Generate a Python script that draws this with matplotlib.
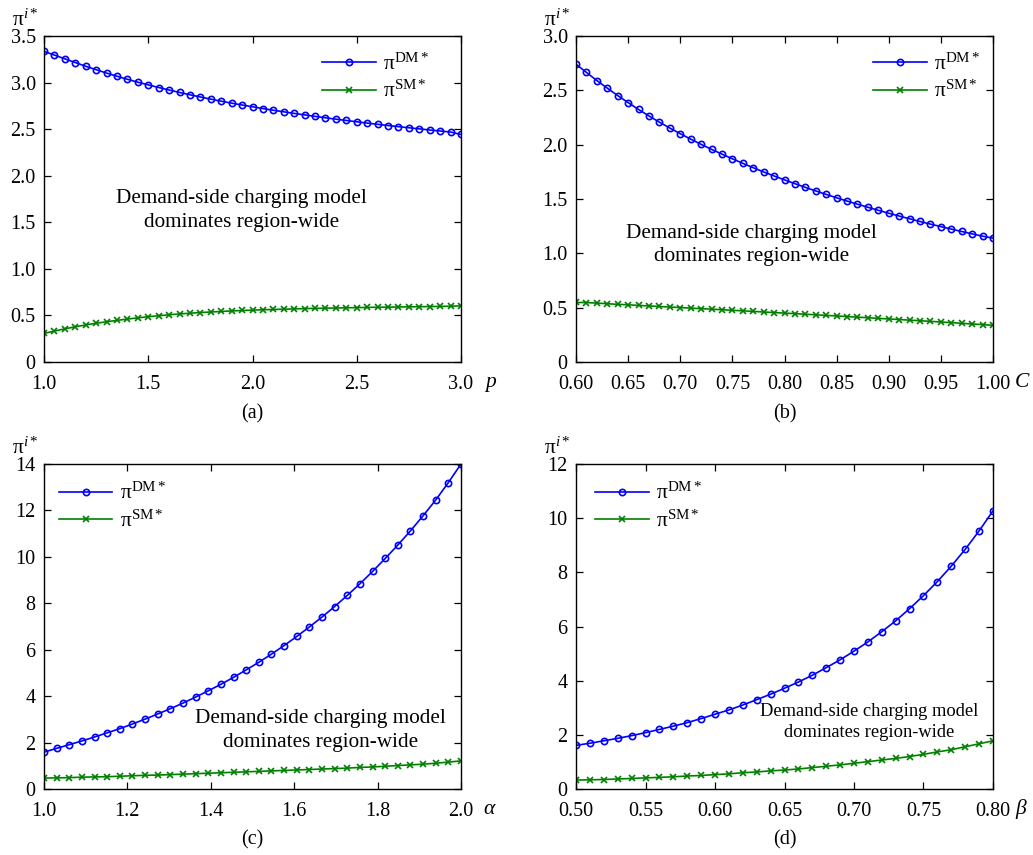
import numpy as np
import matplotlib
matplotlib.use("Agg")
import matplotlib.pyplot as plt

plt.rcParams['font.family'] = ['Liberation Serif', 'DejaVu Serif']
plt.rcParams['mathtext.fontset'] = 'custom'
plt.rcParams['mathtext.rm'] = 'Liberation Serif'
plt.rcParams['mathtext.it'] = 'Liberation Serif:italic'

# ---------------- data ----------------
# (a) versus p
p_vals = [1.00, 1.05, 1.10, 1.15, 1.20, 1.25, 1.30, 1.35, 1.40, 1.45, 1.50,
          1.55, 1.60, 1.65, 1.70, 1.75, 1.80, 1.85, 1.90, 1.95, 2.00,
          2.05, 2.10, 2.15, 2.20, 2.25, 2.30, 2.35, 2.40, 2.45, 2.50,
          2.55, 2.60, 2.65, 2.70, 2.75, 2.80, 2.85, 2.90, 2.95, 3.00]
a_dm = [3.335, 3.295, 3.255, 3.215, 3.175, 3.138, 3.102, 3.068, 3.035, 3.004, 2.975,
        2.947, 2.920, 2.894, 2.869, 2.845, 2.822, 2.800, 2.779, 2.759, 2.740,
        2.721, 2.703, 2.686, 2.669, 2.653, 2.637, 2.622, 2.607, 2.593, 2.579,
        2.565, 2.552, 2.539, 2.527, 2.515, 2.503, 2.491, 2.480, 2.469, 2.443]
a_sm = [0.307, 0.332, 0.356, 0.378, 0.398, 0.416, 0.432, 0.447, 0.461, 0.474, 0.486,
        0.497, 0.507, 0.516, 0.524, 0.531, 0.537, 0.543, 0.548, 0.553, 0.557,
        0.561, 0.564, 0.567, 0.570, 0.573, 0.576, 0.578, 0.580, 0.582, 0.584,
        0.586, 0.588, 0.589, 0.591, 0.592, 0.594, 0.595, 0.597, 0.599, 0.603]

# (b) versus C
c_vals = [0.60, 0.61, 0.62, 0.63, 0.64, 0.65, 0.66, 0.67, 0.68, 0.69, 0.70,
          0.71, 0.72, 0.73, 0.74, 0.75, 0.76, 0.77, 0.78, 0.79, 0.80,
          0.81, 0.82, 0.83, 0.84, 0.85, 0.86, 0.87, 0.88, 0.89, 0.90,
          0.91, 0.92, 0.93, 0.94, 0.95, 0.96, 0.97, 0.98, 0.99, 1.00]
b_dm = [2.740, 2.665, 2.590, 2.520, 2.452, 2.387, 2.324, 2.264, 2.207, 2.153, 2.101,
        2.051, 2.003, 1.957, 1.913, 1.870, 1.828, 1.788, 1.749, 1.712, 1.676,
        1.641, 1.607, 1.574, 1.542, 1.511, 1.481, 1.452, 1.424, 1.396, 1.369,
        1.343, 1.318, 1.293, 1.269, 1.246, 1.223, 1.201, 1.179, 1.158, 1.140]
b_sm = [0.548, 0.547, 0.542, 0.536, 0.531, 0.526, 0.521, 0.516, 0.511, 0.506, 0.501,
        0.496, 0.491, 0.486, 0.481, 0.476, 0.471, 0.466, 0.460, 0.455, 0.450,
        0.445, 0.440, 0.434, 0.429, 0.424, 0.418, 0.413, 0.407, 0.402, 0.396,
        0.391, 0.385, 0.380, 0.374, 0.368, 0.362, 0.356, 0.350, 0.344, 0.337]

# (c) versus alpha
alpha_vals = [1.0000, 1.0303, 1.0606, 1.0909, 1.1212, 1.1515, 1.1818, 1.2121, 1.2424,
              1.2727, 1.3030, 1.3333, 1.3636, 1.3939, 1.4242, 1.4545, 1.4848, 1.5152,
              1.5455, 1.5758, 1.6061, 1.6364, 1.6667, 1.6970, 1.7273, 1.7576, 1.7879,
              1.8182, 1.8485, 1.8788, 1.9091, 1.9394, 1.9697, 2.0000]
c_dm = [1.59, 1.75, 1.91, 2.07, 2.24, 2.42, 2.60, 2.80, 3.01, 3.23, 3.46,
        3.70, 3.96, 4.23, 4.51, 4.81, 5.13, 5.46, 5.81, 6.18, 6.57,
        6.98, 7.41, 7.86, 8.34, 8.84, 9.37, 9.93, 10.51, 11.12, 11.77,
        12.45, 13.20, 14.00]
c_sm = [0.47, 0.48, 0.49, 0.51, 0.52, 0.53, 0.55, 0.57, 0.59, 0.60, 0.62,
        0.64, 0.66, 0.68, 0.70, 0.72, 0.74, 0.76, 0.78, 0.80, 0.82,
        0.84, 0.86, 0.88, 0.90, 0.93, 0.95, 0.98, 1.01, 1.04, 1.07,
        1.11, 1.16, 1.21]

# (d) versus beta
beta_vals = [0.50, 0.51, 0.52, 0.53, 0.54, 0.55, 0.56, 0.57, 0.58, 0.59, 0.60,
             0.61, 0.62, 0.63, 0.64, 0.65, 0.66, 0.67, 0.68, 0.69, 0.70,
             0.71, 0.72, 0.73, 0.74, 0.75, 0.76, 0.77, 0.78, 0.79, 0.80]
d_dm = [1.61, 1.69, 1.78, 1.87, 1.97, 2.08, 2.20, 2.32, 2.45, 2.60, 2.76,
        2.92, 3.10, 3.30, 3.50, 3.72, 3.95, 4.20, 4.48, 4.77, 5.09,
        5.43, 5.81, 6.21, 6.66, 7.14, 7.66, 8.23, 8.85, 9.53, 10.27]
d_sm = [0.33, 0.34, 0.35, 0.37, 0.39, 0.41, 0.43, 0.45, 0.48, 0.50, 0.53,
        0.56, 0.60, 0.63, 0.67, 0.70, 0.74, 0.79, 0.84, 0.89, 0.95,
        1.01, 1.07, 1.13, 1.20, 1.28, 1.37, 1.45, 1.56, 1.67, 1.78]

# ticks
a_xticks = [1.0, 1.5, 2.0, 2.5, 3.0]
a_xlabels = ['1.0', '1.5', '2.0', '2.5', '3.0']
a_yticks = [0, 0.5, 1.0, 1.5, 2.0, 2.5, 3.0, 3.5]
a_ylabels = ['0', '0.5', '1.0', '1.5', '2.0', '2.5', '3.0', '3.5']
b_xticks = [0.60, 0.65, 0.70, 0.75, 0.80, 0.85, 0.90, 0.95, 1.00]
b_xlabels = ['0.60', '0.65', '0.70', '0.75', '0.80', '0.85', '0.90', '0.95', '1.00']
b_yticks = [0, 0.5, 1.0, 1.5, 2.0, 2.5, 3.0]
b_ylabels = ['0', '0.5', '1.0', '1.5', '2.0', '2.5', '3.0']
c_xticks = [1.0, 1.2, 1.4, 1.6, 1.8, 2.0]
c_xlabels = ['1.0', '1.2', '1.4', '1.6', '1.8', '2.0']
c_yticks = [0, 2, 4, 6, 8, 10, 12, 14]
c_ylabels = ['0', '2', '4', '6', '8', '10', '12', '14']
d_xticks = [0.50, 0.55, 0.60, 0.65, 0.70, 0.75, 0.80]
d_xlabels = ['0.50', '0.55', '0.60', '0.65', '0.70', '0.75', '0.80']
d_yticks = [0, 2, 4, 6, 8, 10, 12]
d_ylabels = ['0', '2', '4', '6', '8', '10', '12']

legend_dm = 'π$^{\\mathrm{DM*}}$'
legend_sm = 'π$^{\\mathrm{SM*}}$'
ylabel_txt = 'π$^{i*}$'
note_txt = 'Demand-side charging model\ndominates region-wide'

# ---------------- figure ----------------
W, H = 1033, 855
fig = plt.figure(figsize=(W / 100, H / 100), dpi=100)

def ax_rect(l, t, r, b):
    return [l / W, 1 - b / H, (r - l) / W, (b - t) / H]

blue = '#0000ff'
green = '#008000'
TFS = 14.5

panels = [
    dict(rect=ax_rect(44, 36, 461, 362), x=p_vals, dm=a_dm, sm=a_sm,
         xt=a_xticks, xl=a_xlabels, yt=a_yticks, yl=a_ylabels,
         xlim=(1.0, 3.0), ylim=(0, 3.5), xname='p', xpos=1.072, tag='(a)',
         leg='upper right', anchor=(0.925, 0.947), note=(0.474, 0.465), nfs=15.3, ls=1.32),
    dict(rect=ax_rect(576, 36, 993, 362), x=c_vals, dm=b_dm, sm=b_sm,
         xt=b_xticks, xl=b_xlabels, yt=b_yticks, yl=b_ylabels,
         xlim=(0.6, 1.0), ylim=(0, 3.0), xname='C', xpos=1.070, tag='(b)',
         leg='upper right', anchor=(0.97, 0.947), note=(0.421, 0.359), nfs=15.3, ls=1.32),
    dict(rect=ax_rect(44, 464, 461, 789), x=alpha_vals, dm=c_dm, sm=c_sm,
         xt=c_xticks, xl=c_xlabels, yt=c_yticks, yl=c_ylabels,
         xlim=(1.0, 2.0), ylim=(0, 14), xname='α', xpos=1.067, tag='(c)',
         leg='upper left', anchor=(0.035, 0.942), note=(0.663, 0.18), nfs=15.3, ls=1.32),
    dict(rect=ax_rect(576, 464, 993, 789), x=beta_vals, dm=d_dm, sm=d_sm,
         xt=d_xticks, xl=d_xlabels, yt=d_yticks, yl=d_ylabels,
         xlim=(0.5, 0.8), ylim=(0, 12), xname='β', xpos=1.067, tag='(d)',
         leg='upper left', anchor=(0.045, 0.942), note=(0.702, 0.206), nfs=13.3, ls=1.35),
]

for P in panels:
    ax = fig.add_axes(P['rect'])
    ax.plot(P['x'], P['dm'], color=blue, lw=1.2, marker='o', ms=4.5,
            mfc='none', mew=1.2, label=legend_dm)
    ax.plot(P['x'], P['sm'], color=green, lw=1.2, marker='x', ms=4.0,
            mew=1.2, label=legend_sm)
    ax.set_xlim(*P['xlim'])
    ax.set_ylim(*P['ylim'])
    ax.set_xticks(P['xt'])
    ax.set_xticklabels(P['xl'])
    ax.set_yticks(P['yt'])
    ax.set_yticklabels(P['yl'])
    ax.tick_params(direction='in', top=True, right=True, length=5,
                   width=0.9, labelsize=TFS)
    ax.tick_params(axis='x', pad=9)
    ax.tick_params(axis='y', pad=6)
    for s in ax.spines.values():
        s.set_linewidth(1.0)
    ax.legend(loc=P['leg'], bbox_to_anchor=P['anchor'], frameon=False,
              fontsize=15.5, handlelength=2.5, handletextpad=0.35,
              labelspacing=0.3, borderaxespad=0.0, borderpad=0.0)
    ax.text(P['note'][0], P['note'][1], note_txt, transform=ax.transAxes,
            ha='center', va='center', fontsize=P['nfs'], multialignment='center',
            linespacing=P['ls'])
    ax.text(-0.045, 1.048, ylabel_txt, transform=ax.transAxes, ha='center',
            va='center', fontsize=15.5)
    ax.text(P['xpos'], -0.062, P['xname'], transform=ax.transAxes, ha='center',
            va='center', fontsize=TFS + 1, style='italic')
    ax.text(0.5, -0.158, P['tag'], transform=ax.transAxes, ha='center',
            va='center', fontsize=TFS)

fig.savefig('out.png', dpi=100)
